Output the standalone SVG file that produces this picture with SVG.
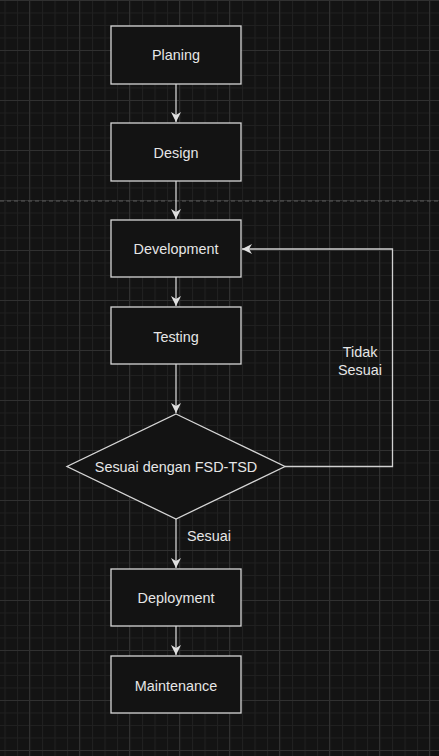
<svg xmlns="http://www.w3.org/2000/svg" width="439" height="756" viewBox="0 0 439 756">
<defs>
<pattern id="minor" x="4.5" y="0" width="12.5" height="12.5" patternUnits="userSpaceOnUse">
<path d="M0 0.5H12.5M0.5 0V12.5" fill="none" stroke="#202020" stroke-width="1"/>
</pattern>
<pattern id="major" x="29" y="0" width="50" height="50" patternUnits="userSpaceOnUse">
<path d="M0 0.5H50M0.5 0V50" fill="none" stroke="#303030" stroke-width="1"/>
</pattern>
<marker id="arr" viewBox="0 0 10 10" refX="10" refY="5" markerWidth="10" markerHeight="10" markerUnits="userSpaceOnUse" orient="auto">
<path d="M0 0L10 5L0 10L3 5Z" fill="#e0e0e0"/>
</marker>
</defs>
<style>
.box{fill:#131313;stroke:#d6d6d6;stroke-width:1.3}
.lbl{font-family:"Liberation Sans",Arial,sans-serif;font-size:14.4px;fill:#e6e6e6;text-anchor:middle}
.edge{fill:none;stroke:#d0d0d0;stroke-width:1.3;marker-end:url(#arr)}
</style>
<rect width="439" height="756" fill="#131313"/>
<rect width="439" height="756" fill="url(#minor)"/>
<rect width="439" height="756" fill="url(#major)"/>
<line x1="0" y1="201" x2="439" y2="201" stroke="#5a5a5a" stroke-width="1" stroke-dasharray="4 3"/>
<g id="connectors">
<path class="edge" d="M176 84V122"/>
<path class="edge" d="M176 181V219"/>
<path class="edge" d="M176 277V306"/>
<path class="edge" d="M176 364V413"/>
<path class="edge" d="M176 519V568"/>
<path class="edge" d="M176 626V655"/>
<path class="edge" d="M285 466.5H392.5V249H242"/>
<text class="lbl" x="360" y="357">Tidak</text>
<text class="lbl" x="360" y="375">Sesuai</text>
<text class="lbl" x="209" y="541">Sesuai</text>
</g>
<g id="planing"><rect class="box" x="111" y="26" width="130" height="58"/><text class="lbl" x="176" y="60">Planing</text></g>
<g id="design"><rect class="box" x="111" y="123" width="130" height="58"/><text class="lbl" x="176" y="158">Design</text></g>
<g id="development"><rect class="box" x="111" y="220" width="130" height="57"/><text class="lbl" x="176" y="254">Development</text></g>
<g id="testing"><rect class="box" x="111" y="307" width="130" height="57"/><text class="lbl" x="176" y="342">Testing</text></g>
<g id="decision"><path class="box" d="M176 414L285 466.5L176 519L67 466.5Z"/><text class="lbl" x="176" y="471.5">Sesuai dengan FSD-TSD</text></g>
<g id="deployment"><rect class="box" x="111" y="569" width="130" height="57"/><text class="lbl" x="176" y="603">Deployment</text></g>
<g id="maintenance"><rect class="box" x="111" y="656" width="130" height="57"/><text class="lbl" x="176" y="691">Maintenance</text></g>
</svg>
